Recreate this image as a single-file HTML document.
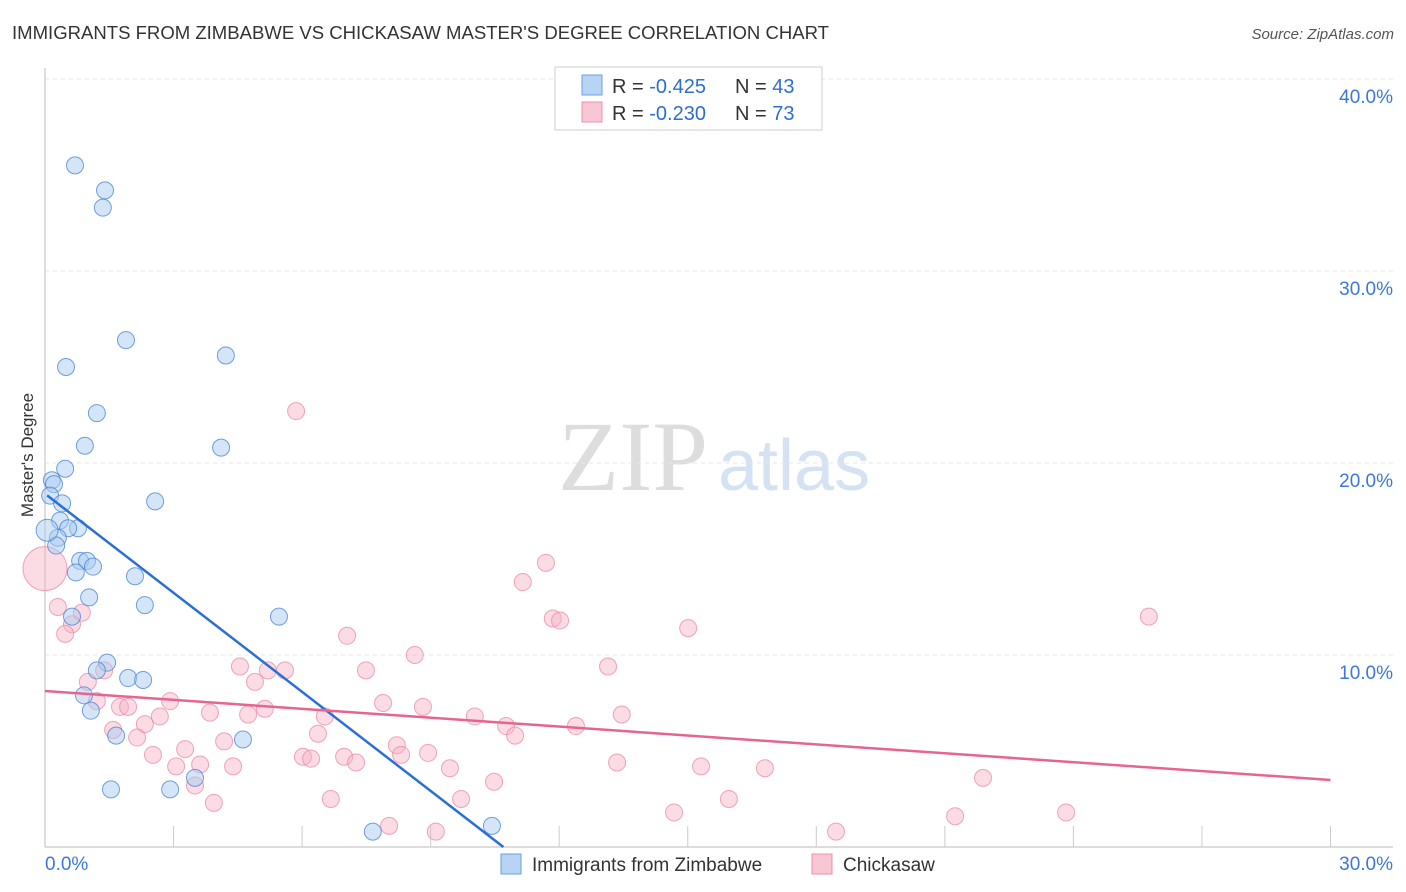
<!DOCTYPE html>
<html><head><meta charset="utf-8"><style>
body{margin:0;background:#fff;font-family:"Liberation Sans",sans-serif}
svg{display:block}
</style></head><body>
<svg id="c" width="1406" height="892">
<text x="12" y="39" font-size="18" fill="#333" textLength="817" lengthAdjust="spacingAndGlyphs">IMMIGRANTS FROM ZIMBABWE VS CHICKASAW MASTER'S DEGREE CORRELATION CHART</text>
<text x="1394" y="39" font-size="15" fill="#555" font-style="italic" text-anchor="end">Source: ZipAtlas.com</text>
<text x="33" y="455" font-size="17" fill="#333" text-anchor="middle" transform="rotate(-90 33 455)">Master's Degree</text>
<text x="558" y="490" font-size="100" fill="#ddd" font-family="Liberation Serif">ZIP</text>
<text x="718" y="490" font-size="72" fill="#d4e2f4">atlas</text>
<g id="grid"></g><g id="pts"></g><g id="lines"></g>
<g>
<rect x="555" y="67" width="267" height="63" fill="#fff" stroke="#ccc"/>
<rect x="582" y="75" width="20" height="20" fill="#b8d4f4" stroke="#6a9ee0"/>
<rect x="582" y="102" width="20" height="20" fill="#f8c6d4" stroke="#e890aa"/>
<text x="612" y="93" font-size="20" fill="#333">R = <tspan fill="#2d6fd0">-0.425</tspan></text>
<text x="735" y="93" font-size="20" fill="#333">N = <tspan fill="#2d6fd0">43</tspan></text>
<text x="612" y="120" font-size="20" fill="#333">R = <tspan fill="#2d6fd0">-0.230</tspan></text>
<text x="735" y="120" font-size="20" fill="#333">N = <tspan fill="#2d6fd0">73</tspan></text>
</g>
<g>
<rect x="501" y="854" width="20" height="20" fill="#b8d4f4" stroke="#6a9ee0"/>
<text x="532" y="871" font-size="19" fill="#333">Immigrants from Zimbabwe</text>
<rect x="812" y="854" width="20" height="20" fill="#f8c6d4" stroke="#e890aa"/>
<text x="843" y="871" font-size="19" fill="#333">Chickasaw</text>
</g>
</svg>
<script>
const yTicks=[10,20,30,40];
const xTickLabels=["0.0%","30.0%"];
const blueX=[0.7,1.4,1.35,1.89,0.49,4.22,1.21,0.93,4.11,0.47,0.16,0.21,0.12,0.4,2.57,0.35,0.77,0.54,0.3,0.26,0.82,0.98,1.12,0.72,2.1,1.03,2.33,0.63,5.46,1.45,1.21,1.94,2.29,0.91,1.07,1.66,4.62,1.54,2.92,3.5,7.65,10.43,0.05];
const blueY=[35.5,34.2,33.3,26.4,25.0,25.6,22.6,20.9,20.8,19.7,19.1,18.9,18.3,17.9,18.0,17.0,16.6,16.6,16.1,15.7,14.9,14.9,14.6,14.3,14.1,13.0,12.6,12.0,12.0,9.6,9.2,8.8,8.7,7.9,7.1,5.8,5.6,3.0,3.0,3.6,0.8,1.1,16.5];
const pinkX=[5.86,11.69,11.15,11.85,12.02,15.01,25.76,0.3,0.86,0.63,0.47,7.05,8.63,13.14,4.55,5.2,5.6,7.49,1.38,1.0,4.9,2.92,1.21,1.75,1.94,7.89,8.82,2.68,3.85,4.74,5.13,6.53,10.03,10.76,13.46,2.33,1.59,2.15,6.37,12.39,10.97,4.18,2.52,3.27,8.21,8.94,6.02,6.21,6.98,7.26,8.31,3.62,4.39,3.06,9.45,13.35,15.31,16.8,10.48,3.5,21.89,6.67,9.71,15.96,3.94,14.68,21.24,23.83,8.03,9.12,18.46,0.0];
const pinkY=[22.7,14.8,13.8,11.9,11.8,11.4,12.0,12.5,12.2,11.6,11.1,11.0,10.0,9.4,9.4,9.2,9.2,9.2,9.2,8.6,8.6,7.6,7.6,7.3,7.3,7.5,7.3,6.8,7.0,6.9,7.2,6.8,6.8,6.3,6.9,6.4,6.1,5.7,5.9,6.3,5.8,5.5,4.8,5.1,5.3,4.9,4.7,4.6,4.7,4.4,4.8,4.3,4.2,4.2,4.1,4.4,4.2,4.1,3.4,3.2,3.6,2.5,2.5,2.5,2.3,1.8,1.6,1.8,1.1,0.8,0.8,14.5];
const blueFit=[18.4,-1.72];
const pinkFit=[8.125,-0.1545];
const NS="http://www.w3.org/2000/svg";
const X=v=>45+v*42.85, Y=v=>847-v*19.2;
const grid=document.getElementById('grid'),pts=document.getElementById('pts'),lines=document.getElementById('lines');
function mk(tag,at,parent){const e=document.createElementNS(NS,tag);for(const k in at)e.setAttribute(k,at[k]);parent.appendChild(e);return e;}
let e=mk('line',{x1:45,y1:68,x2:45,y2:847,stroke:'#bbb'},grid);


e=mk('line',{x1:45,y1:847,x2:1393,y2:847,stroke:'#bbb'},grid);


for(let i=1;i<=10;i++){e=mk('line',{x1:X(i*3),y1:826,x2:X(i*3),y2:847,stroke:'#ccc'},grid);

}
yTicks.forEach(t=>{e=mk('line',{x1:45,y1:Y(t),x2:1393,y2:Y(t),stroke:'#e6e6e6','stroke-dasharray':'4 4'},grid);


const tx=mk('text',{x:1393,y:Y(t)+24,'font-size':19,fill:'#3b78d8','text-anchor':'end'},grid);tx.textContent=t.toFixed(1)+'%';

});
[[45,'start',xTickLabels[0]],[1393,'end',xTickLabels[1]]].forEach(([x,a,s])=>{const t=mk('text',{x:x,y:870,'font-size':19,fill:'#3b78d8','text-anchor':a},grid);t.textContent=s;

});
pinkX.forEach((v,i)=>{const last=i===pinkX.length-1;const c=mk('circle',{cx:X(v),cy:Y(pinkY[i]),r:last?22:8.5,fill:'rgba(246,178,198,0.45)',stroke:'rgba(232,130,160,0.7)'},pts);

});
blueX.forEach((v,i)=>{const last=i===blueX.length-1;const c=mk('circle',{cx:X(v),cy:Y(blueY[i]),r:last?11:8.5,fill:'rgba(170,204,240,0.5)',stroke:'rgba(70,130,210,0.75)'},pts);

});
const bx2=-blueFit[0]/blueFit[1];
e=mk('line',{x1:X(0.05),y1:Y(blueFit[0]+blueFit[1]*0.05),x2:X(bx2),y2:Y(0),stroke:'#2a6fd6','stroke-width':2.5},lines);


e=mk('line',{x1:X(0),y1:Y(pinkFit[0]),x2:X(30),y2:Y(pinkFit[0]+pinkFit[1]*30),stroke:'#e8648e','stroke-width':2.5},lines);


</script>
</body></html>
